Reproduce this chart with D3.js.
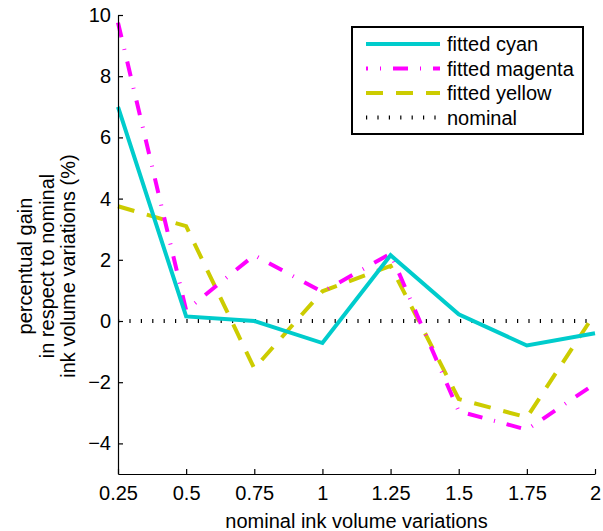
<!DOCTYPE html>
<html><head><meta charset="utf-8">
<script src="https://cdn.jsdelivr.net/npm/d3@7"></script>
<style>body{margin:0;background:#fff}svg{display:block}text{font-family:"Liberation Sans",Arial,sans-serif;fill:#000}</style>
</head><body>
<script>
const xValues = [0.25, 0.5, 0.75, 1, 1.25, 1.5, 1.75, 2];
const cyan    = [7.0, 0.15, 0.0, -0.72, 2.15, 0.22, -0.8, -0.4];
const magenta = [9.75, 0.35, 2.15, 0.95, 2.2, -2.95, -3.55, -2.05];
const yellow  = [3.75, 3.1, -1.55, 0.97, 1.8, -2.55, -3.15, 0.25];
const nominal = [0, 0, 0, 0, 0, 0, 0, 0];
const xTicks = [0.25, 0.5, 0.75, 1, 1.25, 1.5, 1.75, 2];
const xTickLabels = ["0.25", "0.5", "0.75", "1", "1.25", "1.5", "1.75", "2"];
const yTicks = [-4, -2, 0, 2, 4, 6, 8, 10];
const seriesNames = ["fitted cyan", "fitted magenta", "fitted yellow", "nominal"];

const W = 603, H = 531;
const L = 118, R = 595, T = 15, B = 474;
const FS = 20;
const svg = d3.select("body").append("svg").attr("width", W).attr("height", H);
const x = d3.scaleLinear().domain([0.25, 2]).range([L, R]);
const y = d3.scaleLinear().domain([-5, 10]).range([B, T]);

const styles = [
  {color: "#00cccc", dash: null, width: 4},
  {color: "#ff00ff", dash: "15 12 1 12", width: 4},
  {color: "#cccc00", dash: "17 13", width: 4},
  {color: "#000", dash: "1.2 10.2", width: 4}
];
const data = [cyan, magenta, yellow, nominal];

const line = d3.line().x((d, i) => x(xValues[i])).y(d => y(d));
const order = [3, 2, 1, 0];
order.forEach(k => {
  svg.append("path").datum(data[k]).attr("d", line)
    .attr("fill", "none").attr("stroke", styles[k].color)
    .attr("stroke-width", styles[k].width)
    .attr("stroke-dasharray", styles[k].dash)
    .attr("stroke-linejoin", "miter");
});

// axes
const xAxis = d3.axisBottom(x).tickValues(xTicks).tickFormat((d, i) => xTickLabels[i]).tickSizeInner(-5).tickSizeOuter(0).tickPadding(12);
const gx = svg.append("g").attr("transform", `translate(0,${B})`).call(xAxis);
const yAxis = d3.axisLeft(y).tickValues(yTicks).tickFormat(d => d < 0 ? "\u2212" + Math.abs(d) : d).tickSizeInner(-5).tickSizeOuter(0).tickPadding(7);
const gy = svg.append("g").attr("transform", `translate(${L},0)`).call(yAxis);
[gx, gy].forEach(g => {
  g.selectAll("path.domain").attr("stroke", "#000").attr("stroke-width", 1.2);
  g.selectAll(".tick line").attr("stroke", "#000").attr("stroke-width", 1.2);
  g.selectAll("text").attr("font-size", FS).attr("font-family", "Liberation Sans, Arial, sans-serif").attr("fill", "#000");
});
svg.append("text").attr("x", (L + R) / 2 + 0).attr("y", 528).attr("text-anchor", "middle")
  .attr("font-size", FS).text("nominal ink volume variations");

const ylab = ["percentual gain", "in respect to nominal", "ink volume variations (%)"];
const yl = svg.append("text").attr("transform", "translate(0,266) rotate(-90)").attr("text-anchor", "middle").attr("font-size", FS);
ylab.forEach((t, i) => yl.append("tspan").attr("x", 0).attr("y", 32 + i * 21.5).text(t));

// legend
const lg = svg.append("g");
lg.append("rect").attr("x", 352).attr("y", 27).attr("width", 231).attr("height", 107)
  .attr("fill", "#fff").attr("stroke", "#000").attr("stroke-width", 2);
seriesNames.forEach((n, i) => {
  const cy = 44 + i * 24.5;
  lg.append("line").attr("x1", 366).attr("x2", 440).attr("y1", cy).attr("y2", cy)
    .attr("stroke", styles[i].color).attr("stroke-width", styles[i].width)
    .attr("stroke-dasharray", styles[i].dash)
    .attr("stroke-dashoffset", i === 1 ? 13 : 0);
  lg.append("text").attr("x", 447).attr("y", cy + 7).attr("font-size", FS).text(n);
});
</script>
</body></html>
